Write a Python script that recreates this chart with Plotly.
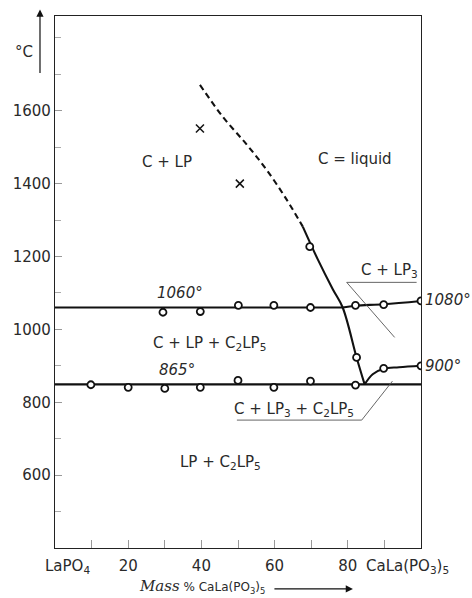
import plotly.graph_objects as go

# ---- data ----
line1060_x = [0, 78.6]
line1060_y = [1060, 1060]
eut_x = [0, 100]
eut_y = [849, 849]

liq_dash_x = [39.6, 45.8, 52.4, 57.8, 63.3, 67.7]
liq_dash_y = [1671, 1584, 1507, 1438, 1356, 1282]
liq_solid_x = [67.7, 71.8, 75.9, 78.6, 82.4, 84.6]
liq_solid_y = [1282, 1192, 1110, 1060, 923, 849]

upper_branch_x = [78.6, 82.1, 89.8, 100]
upper_branch_y = [1060, 1065, 1069, 1078]
lower_branch_x = [84.6, 86.8, 89.8, 94, 100]
lower_branch_y = [849, 877, 892, 896, 900]

circ_x = [29.5, 39.7, 50.1, 59.8, 69.8, 82.1, 89.8, 100,
          69.6, 82.4,
          9.8, 20, 30, 39.7, 50, 59.8, 69.8, 82.1,
          89.8, 100]
circ_y = [1047, 1049, 1066, 1066, 1060, 1066, 1068, 1078,
          1227, 923,
          848, 841, 838, 841, 860, 841, 858, 847,
          893, 900]

cross_x = [39.6, 50.5]
cross_y = [1551, 1400]

x_tickvals = [10, 20, 30, 40, 50, 60, 70, 80, 90]
x_ticktext = ["", "20", "", "40", "", "60", "", "80", ""]
y_tickvals = [600, 800, 1000, 1200, 1400, 1600]
y_ticktext = ["600", "800", "1000", "1200", "1400", "1600"]

FONT = "DejaVu Sans"
TXT = "#2a2a2a"
LC = "#111111"

fig = go.Figure()

def add_line(x, y, dash="solid", width=2.1, shape="linear"):
    fig.add_trace(go.Scatter(x=x, y=y, mode="lines", showlegend=False,
                             hoverinfo="skip",
                             line=dict(color=LC, width=width, dash=dash, shape=shape)))

add_line(line1060_x, line1060_y)
add_line(eut_x, eut_y)
add_line(liq_dash_x, liq_dash_y, dash="6px,4px", shape="spline")
add_line(liq_solid_x, liq_solid_y, shape="spline")
add_line(upper_branch_x, upper_branch_y, shape="spline")
add_line(lower_branch_x, lower_branch_y, shape="spline")

fig.add_trace(go.Scatter(x=circ_x, y=circ_y, mode="markers", showlegend=False,
                         marker=dict(symbol="circle", size=7, color="white",
                                     line=dict(color=LC, width=1.8))))
fig.add_trace(go.Scatter(x=cross_x, y=cross_y, mode="markers", showlegend=False,
                         marker=dict(symbol="x-thin", size=8,
                                     line=dict(color=LC, width=1.5))))

# leader lines for labels
leader = dict(color="#555555", width=0.9)
fig.add_shape(type="path", xref="x", yref="y",
              path="M 98.8 1129 L 79.7 1129 L 92.8 978", line=leader)
fig.add_shape(type="path", xref="x", yref="y",
              path="M 49.7 751 L 83.8 751 L 92.2 858", line=leader)

def label(x, y, text, size=15, xanchor="center", italic=False, **kw):
    t = f"<i>{text}</i>" if italic else text
    fig.add_annotation(x=x, y=y, xref="x", yref="y", text=t, showarrow=False,
                       xanchor=xanchor, yanchor="middle",
                       font=dict(family=FONT, size=size, color=TXT), **kw)

label(30.7, 1460, "C + LP")
label(82.1, 1468, "C = liquid")
label(34.1, 1100, "1060°", italic=True)
label(42.2, 960, "C + LP + C<sub>2</sub>LP<sub>5</sub>")
label(33.2, 889, "865°", italic=True)
label(91.4, 1162, "C + LP<sub>3</sub>")
label(65.2, 781, "C + LP<sub>3</sub> + C<sub>2</sub>LP<sub>5</sub>")
label(45.3, 636, "LP + C<sub>2</sub>LP<sub>5</sub>")
fig.add_annotation(x=100, y=1080, xref="x", yref="y", text="<i>1080°</i>",
                   showarrow=False, xanchor="left", xshift=2,
                   font=dict(family=FONT, size=15, color=TXT))
fig.add_annotation(x=100, y=900, xref="x", yref="y", text="<i>900°</i>",
                   showarrow=False, xanchor="left", xshift=2,
                   font=dict(family=FONT, size=15, color=TXT))

# end labels on x axis
fig.add_annotation(x=3.4, y=0, xref="x", yref="paper", yshift=-18,
                   text="LaPO<sub>4</sub>", showarrow=False, yanchor="middle",
                   font=dict(family=FONT, size=15, color=TXT))
fig.add_annotation(x=96.3, y=0, xref="x", yref="paper", yshift=-18,
                   text="CaLa(PO<sub>3</sub>)<sub>5</sub>", showarrow=False,
                   yanchor="middle", font=dict(family=FONT, size=15, color=TXT))

# x-axis title with arrow
fig.add_annotation(x=0.58, y=-0.073, xref="paper", yref="paper",
                   text="<span style='font-family:DejaVu Serif;font-size:15px'><i>Mass</i></span> % CaLa(PO<sub>3</sub>)<sub>5</sub>",
                   showarrow=False, xanchor="right", yanchor="middle",
                   font=dict(family=FONT, size=12, color=TXT))
fig.add_annotation(x=0.814, y=-0.077, ax=-80, ay=0,
                   xref="paper", yref="paper", axref="pixel", ayref="pixel",
                   text="", showarrow=True, arrowhead=2, arrowsize=1.2,
                   arrowwidth=1.2, arrowcolor=LC)

# y-axis unit with arrow
fig.add_annotation(x=-0.055, y=0.932, xref="paper", yref="paper", text="°C",
                   showarrow=False, xanchor="right", yanchor="middle",
                   font=dict(family=FONT, size=15, color=TXT))
fig.add_annotation(x=-0.041, y=1.012, ax=0, ay=65,
                   xref="paper", yref="paper", axref="pixel", ayref="pixel",
                   text="", showarrow=True, arrowhead=2, arrowsize=1.2,
                   arrowwidth=1.2, arrowcolor=LC)

fig.update_layout(
    width=472, height=598,
    margin=dict(l=55, r=51, t=16, b=50),
    paper_bgcolor="white", plot_bgcolor="white",
    showlegend=False,
    xaxis=dict(range=[0, 100], showgrid=False, zeroline=False,
               showline=True, mirror=True, linecolor="#222", linewidth=1.3,
               ticks="inside", ticklen=8, tickcolor="#999", tickwidth=1,
               tickvals=x_tickvals, ticktext=x_ticktext,
               ticklabelstandoff=4,
               tickfont=dict(family=FONT, size=15, color=TXT)),
    yaxis=dict(range=[400, 1860], showgrid=False, zeroline=False,
               showline=True, mirror=True, linecolor="#222", linewidth=1.3,
               ticks="inside", ticklen=7, tickcolor="#999", tickwidth=1,
               tickvals=y_tickvals, ticktext=y_ticktext,
               minor=dict(ticks="inside", dtick=100, ticklen=6,
                          tickcolor="#aaa", showgrid=False),
               tickfont=dict(family=FONT, size=15, color=TXT)),
)

fig.write_html("out.html")
